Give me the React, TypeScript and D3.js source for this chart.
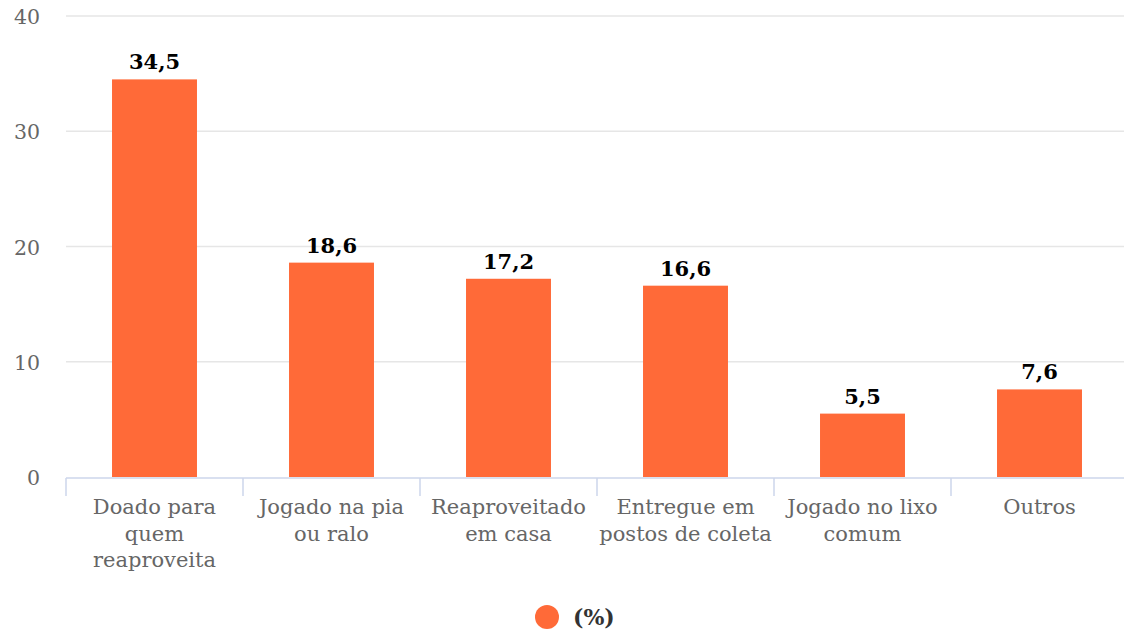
import { useEffect, useRef } from 'react';
import * as d3 from 'd3';

const categories = [
  ['Doado para', 'quem', 'reaproveita'],
  ['Jogado na pia', 'ou ralo'],
  ['Reaproveitado', 'em casa'],
  ['Entregue em', 'postos de coleta'],
  ['Jogado no lixo', 'comum'],
  ['Outros'],
];
const values = [34.5, 18.6, 17.2, 16.6, 5.5, 7.6];
const yTicks = [0, 10, 20, 30, 40];
const seriesName = '(%)';

const width = 1124;
const height = 632;
const color = '#ff6a38';
const font = '"DejaVu Serif", serif';

const App = () => {
  const svgRef = useRef<SVGSVGElement | null>(null);

  useEffect(() => {
    if (!svgRef.current) return;
    const svg = d3.select(svgRef.current);
    svg.selectAll('*').remove();

    const x = d3.scaleBand<number>()
      .domain(d3.range(values.length))
      .range([66, 1128])
      .paddingInner(0.52)
      .paddingOuter(0.26);
    const y = d3.scaleLinear().domain([0, 40]).range([477, 16]);

    // gridlines
    svg.append('g')
      .selectAll('line')
      .data(yTicks.filter(t => t > 0))
      .enter()
      .append('line')
      .attr('x1', 66)
      .attr('x2', width)
      .attr('y1', d => y(d))
      .attr('y2', d => y(d))
      .attr('stroke', '#e6e6e6')
      .attr('stroke-width', 1.5);

    // y labels
    svg.append('g')
      .selectAll('text')
      .data(yTicks)
      .enter()
      .append('text')
      .attr('x', 40)
      .attr('y', d => y(d) + 8)
      .attr('text-anchor', 'end')
      .attr('font-family', font)
      .attr('font-size', 20.5)
      .attr('fill', '#666')
      .text(d => d);

    // bars
    svg.append('g')
      .selectAll('rect')
      .data(values)
      .enter()
      .append('rect')
      .attr('x', (_, i) => x(i)!)
      .attr('y', d => y(d))
      .attr('width', x.bandwidth())
      .attr('height', d => y(0) - y(d))
      .attr('fill', color);

    // value labels
    svg.append('g')
      .selectAll('text')
      .data(values)
      .enter()
      .append('text')
      .attr('x', (_, i) => x(i)! + x.bandwidth() / 2)
      .attr('y', d => y(d) - 10)
      .attr('text-anchor', 'middle')
      .attr('font-family', font)
      .attr('font-weight', 'bold')
      .attr('font-size', 21)
      .attr('fill', '#000')
      .text(d => d.toFixed(1).replace('.', ','));

    // x axis line + ticks
    const step = x.step();
    const start = x(0)! - x.paddingOuter() * step;
    const axis = svg.append('g');
    axis.append('line')
      .attr('x1', 66).attr('x2', width)
      .attr('y1', y(0) + 1).attr('y2', y(0) + 1)
      .attr('stroke', '#ccd6eb').attr('stroke-width', 1.5);
    axis.selectAll('line.tick')
      .data(d3.range(values.length + 1))
      .enter()
      .append('line')
      .attr('class', 'tick')
      .attr('x1', i => start + i * step)
      .attr('x2', i => start + i * step)
      .attr('y1', y(0) + 1)
      .attr('y2', y(0) + 19)
      .attr('stroke', '#ccd6eb')
      .attr('stroke-width', 1.5);

    // category labels
    const labels = svg.append('g')
      .selectAll('text')
      .data(categories)
      .enter()
      .append('text')
      .attr('x', (_, i) => x(i)! + x.bandwidth() / 2)
      .attr('y', 514)
      .attr('text-anchor', 'middle')
      .attr('font-family', font)
      .attr('font-size', 21)
      .attr('fill', '#666');
    labels.selectAll('tspan')
      .data(d => d)
      .enter()
      .append('tspan')
      .attr('x', function () {
        return (this as SVGTSpanElement).parentElement!.getAttribute('x');
      })
      .attr('dy', (_, j) => (j === 0 ? 0 : 26.5))
      .text(d => d);

    // legend
    svg.append('circle')
      .attr('cx', 547).attr('cy', 617).attr('r', 12)
      .attr('fill', color);
    svg.append('text')
      .attr('x', 573).attr('y', 625)
      .attr('font-family', font)
      .attr('font-weight', 'bold')
      .attr('font-size', 22)
      .attr('fill', '#333')
      .text(seriesName);
  }, []);

  return (
    <svg
      ref={svgRef}
      width={width}
      height={height}
      style={{ position: 'absolute', left: 0, top: 0, background: '#fff' }}
    />
  );
};

export default App;
